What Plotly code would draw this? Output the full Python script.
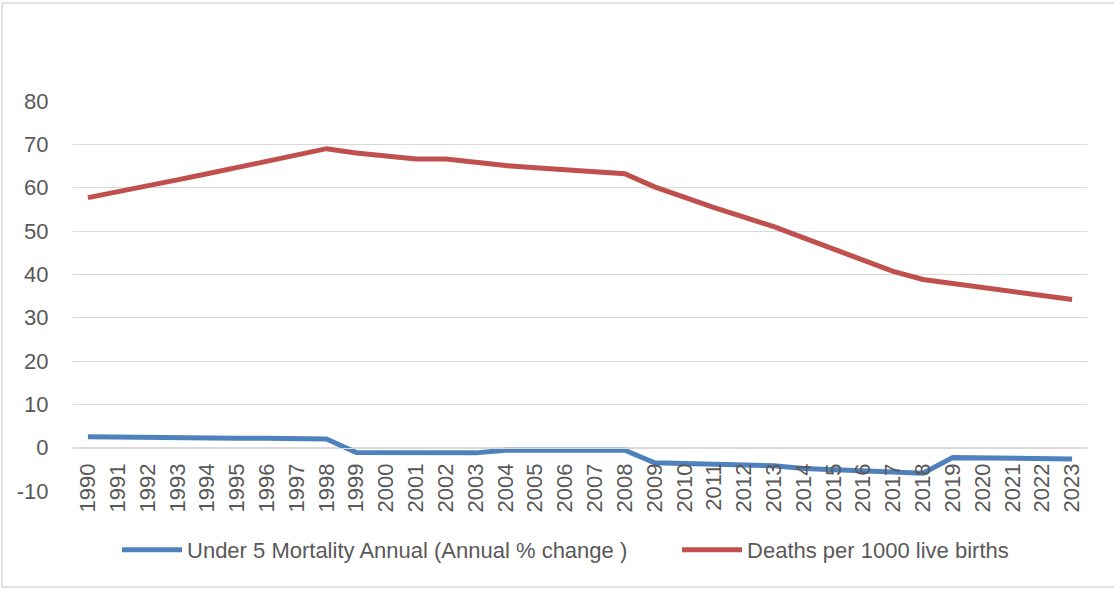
import plotly.graph_objects as go

# Years on the category axis
years = [str(y) for y in range(1990, 2024)]

# Under-5 mortality, annual % change
under5_change = [2.5, 2.4, 2.3, 2.3, 2.3, 2.2, 2.2, 2.1, 2.0,
                 -1.1, -1.1, -1.1, -1.1, -1.2,
                 -0.6, -0.6, -0.6, -0.6, -0.6,
                 -3.5, -3.7, -3.8, -4.0, -4.2, -4.8, -5.1, -5.3, -5.6, -5.9,
                 -2.3, -2.4, -2.5, -2.5, -2.6]

# Deaths per 1000 live births
deaths_per_1000 = [57.7, 59.0, 60.4, 61.8, 63.2, 64.6, 66.0, 67.5, 69.0,
                   68.0, 67.3, 66.6, 66.6, 65.8, 65.1, 64.6, 64.1, 63.6, 63.2,
                   60.2, 57.7, 55.4, 53.2, 51.0, 48.4, 45.8, 43.2, 40.7, 38.8,
                   37.9, 37.0, 36.0, 35.1, 34.2]

y_ticks = [-10, 0, 10, 20, 30, 40, 50, 60, 70, 80]
y_tick_labels = [str(v) for v in y_ticks]

BLUE = "#4F81BD"
RED = "#C0504D"
GRID = "#D9D9D9"
TEXT = "#595959"
FONT = "Liberation Sans"

fig = go.Figure()
fig.add_trace(go.Scatter(
    x=years, y=under5_change, mode="lines",
    name="Under 5 Mortality Annual (Annual % change )",
    line=dict(color=BLUE, width=5), legend="legend",
))
fig.add_trace(go.Scatter(
    x=years, y=deaths_per_1000, mode="lines",
    name="Deaths per 1000 live births",
    line=dict(color=RED, width=5), legend="legend2",
))

y_min, y_max = -10, 80
zero_pos = (0 - y_min) / (y_max - y_min)

legend_style = dict(
    orientation="h", xanchor="left", y=-0.151, yanchor="middle",
    font=dict(size=22, color=TEXT), itemwidth=60,
    bgcolor="rgba(0,0,0,0)",
)

fig.update_layout(
    width=1114, height=589,
    margin=dict(l=73, r=27, t=101, b=98),
    paper_bgcolor="white", plot_bgcolor="white",
    font=dict(family=FONT, color=TEXT, size=22),
    showlegend=True,
    legend=dict(x=0.0434, **legend_style),
    legend2=dict(x=0.5957, **legend_style),
    xaxis=dict(
        type="category", range=[-0.5, len(years) - 0.5],
        anchor="free", position=zero_pos,
        tickangle=-90, tickfont=dict(size=22, color=TEXT),
        showgrid=False, showline=True, linecolor=GRID, linewidth=1,
        ticks="outside", ticklen=6, tickcolor="rgba(0,0,0,0)",
        zeroline=False,
    ),
    yaxis=dict(
        range=[y_min, y_max], tickvals=y_ticks, ticktext=y_tick_labels,
        anchor="free", position=0,
        showgrid=True, gridcolor=GRID, gridwidth=1,
        zeroline=False, showline=False,
        tickfont=dict(size=22, color=TEXT),
        ticks="outside", ticklen=20, tickcolor="rgba(0,0,0,0)",
    ),
    shapes=[dict(
        type="rect", xref="paper", yref="paper",
        x0=-0.070, x1=1.035, y0=-0.246, y1=1.2513,
        line=dict(color=GRID, width=1.5), fillcolor="rgba(0,0,0,0)",
        layer="below",
    )],
)

fig.write_html("out.html")
